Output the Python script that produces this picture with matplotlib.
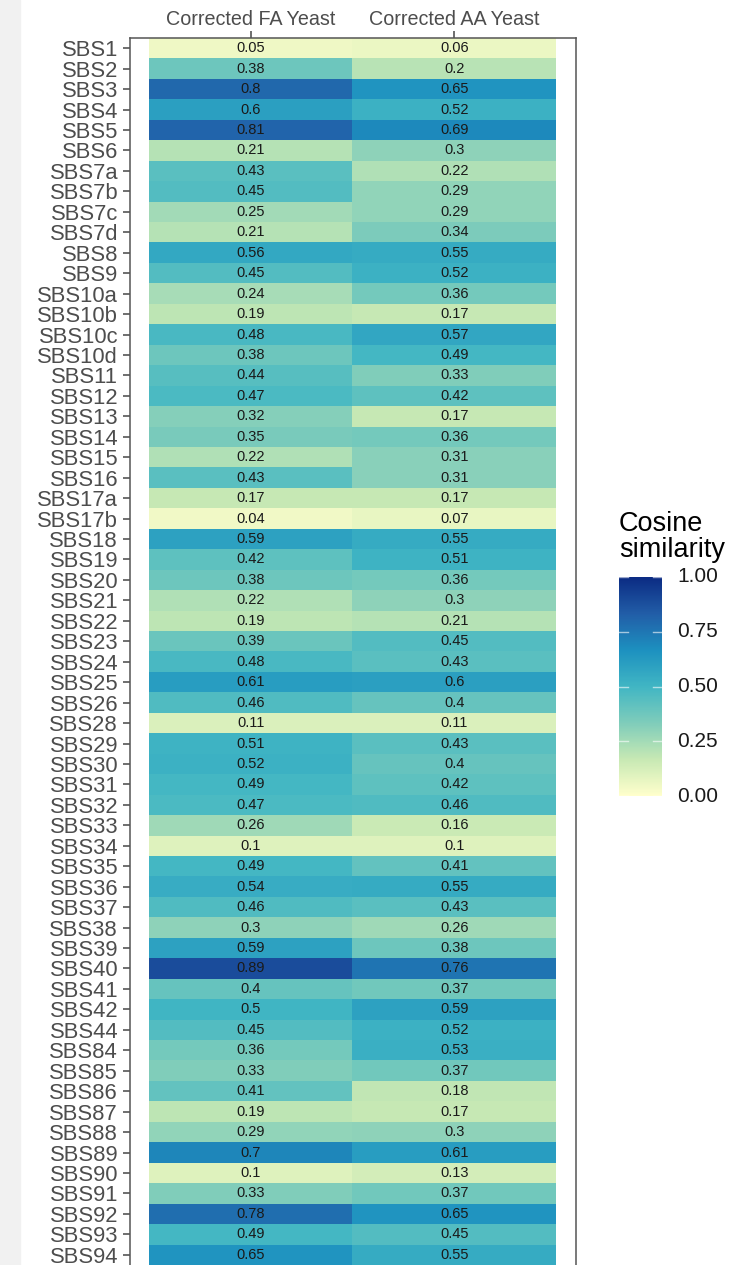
import numpy as np
import matplotlib
matplotlib.use("Agg")
import matplotlib.pyplot as plt
import matplotlib.patches as mpatches
from matplotlib.colors import LinearSegmentedColormap

plt.rcParams['font.family'] = ['Liberation Sans', 'DejaVu Sans']

signatures = ['SBS1', 'SBS2', 'SBS3', 'SBS4', 'SBS5', 'SBS6', 'SBS7a', 'SBS7b', 'SBS7c', 'SBS7d',
              'SBS8', 'SBS9', 'SBS10a', 'SBS10b', 'SBS10c', 'SBS10d', 'SBS11', 'SBS12', 'SBS13', 'SBS14',
              'SBS15', 'SBS16', 'SBS17a', 'SBS17b', 'SBS18', 'SBS19', 'SBS20', 'SBS21', 'SBS22', 'SBS23',
              'SBS24', 'SBS25', 'SBS26', 'SBS28', 'SBS29', 'SBS30', 'SBS31', 'SBS32', 'SBS33', 'SBS34',
              'SBS35', 'SBS36', 'SBS37', 'SBS38', 'SBS39', 'SBS40', 'SBS41', 'SBS42', 'SBS44', 'SBS84',
              'SBS85', 'SBS86', 'SBS87', 'SBS88', 'SBS89', 'SBS90', 'SBS91', 'SBS92', 'SBS93', 'SBS94']
samples = ['Corrected FA Yeast', 'Corrected AA Yeast']

fa_yeast = [0.05, 0.38, 0.8, 0.6, 0.81, 0.21, 0.43, 0.45, 0.25, 0.21,
            0.56, 0.45, 0.24, 0.19, 0.48, 0.38, 0.44, 0.47, 0.32, 0.35,
            0.22, 0.43, 0.17, 0.04, 0.59, 0.42, 0.38, 0.22, 0.19, 0.39,
            0.48, 0.61, 0.46, 0.11, 0.51, 0.52, 0.49, 0.47, 0.26, 0.1,
            0.49, 0.54, 0.46, 0.3, 0.59, 0.89, 0.4, 0.5, 0.45, 0.36,
            0.33, 0.41, 0.19, 0.29, 0.7, 0.1, 0.33, 0.78, 0.49, 0.65]
aa_yeast = [0.06, 0.2, 0.65, 0.52, 0.69, 0.3, 0.22, 0.29, 0.29, 0.34,
            0.55, 0.52, 0.36, 0.17, 0.57, 0.49, 0.33, 0.42, 0.17, 0.36,
            0.31, 0.31, 0.17, 0.07, 0.55, 0.51, 0.36, 0.3, 0.21, 0.45,
            0.43, 0.6, 0.4, 0.11, 0.43, 0.4, 0.42, 0.46, 0.16, 0.1,
            0.41, 0.55, 0.43, 0.26, 0.38, 0.76, 0.37, 0.59, 0.52, 0.53,
            0.37, 0.18, 0.17, 0.3, 0.61, 0.13, 0.37, 0.65, 0.45, 0.55]

cbar_ticks = [0.0, 0.25, 0.5, 0.75, 1.0]

# 7-class brewer YlGnBu, stretched like ggplot's distiller scale
ylgnbu7 = ['#ffffcc', '#c7e9b4', '#7fcdbb', '#41b6c4', '#1d91c0', '#225ea8', '#0c2c84']
cmap = LinearSegmentedColormap.from_list('ylgnbu7', ylgnbu7)

W, H = 751, 1265
axcol = '#555555'
txtcol = '#4d4d4d'

fig = plt.figure(figsize=(W / 100, H / 100), dpi=100)
fig.patches.append(mpatches.Rectangle((0, 0), 20 / W, 1, transform=fig.transFigure,
                                      color='#f1f1f1', zorder=0))

# heatmap panel
ax = fig.add_axes([130 / W, 0, 446 / W, (H - 38) / H])
data = np.array([fa_yeast, aa_yeast]).T
n = len(signatures)
ax.imshow(data, cmap=cmap, vmin=0, vmax=1, aspect='auto', interpolation='nearest',
          extent=(-0.5, 1.5, n - 0.5, -0.5))
for i in range(n):
    for j in range(2):
        ax.text(j, i, f"{data[i, j]:g}", ha='center', va='center', fontsize=10.5, color='#1a1a1a')

ax.set_xlim(-0.5 - 19 / 203.5, 1.5 + 20 / 203.5)
ax.set_ylim(n - 0.5, -0.5)
ax.set_yticks(range(n))
ax.set_yticklabels(signatures, fontsize=15.8, color=txtcol)
ax.set_xticks([0, 1])
ax.set_xticklabels(samples, fontsize=14.2, color=txtcol)
ax.xaxis.tick_top()
ax.tick_params(axis='y', length=5, width=1.2, color=axcol, pad=3.5)
ax.tick_params(axis='x', length=5, width=1.2, color=axcol, pad=1.5)
for side in ['left', 'top', 'right']:
    ax.spines[side].set_color(axcol)
    ax.spines[side].set_linewidth(1.1)
ax.spines['bottom'].set_visible(False)

# colorbar legend
cax = fig.add_axes([619 / W, (H - 796) / H, 43 / W, 219 / H])
grad = np.linspace(0, 1, 300).reshape(-1, 1)
cax.imshow(grad, cmap=cmap, vmin=0, vmax=1, aspect='auto', origin='lower',
           extent=(0, 1, 0, 1))
cax.set_xlim(0, 1)
cax.set_ylim(0, 1)
for t in cbar_ticks:
    cax.plot([0, 0.2], [t, t], color='white', lw=1, alpha=0.6)
    cax.plot([0.8, 1], [t, t], color='white', lw=1, alpha=0.6)
    cax.text(1 + 15 / 43, t, f"{t:.2f}", ha='left', va='center', fontsize=15, color='#1a1a1a')
cax.set_xticks([])
cax.set_yticks([])
for s in cax.spines.values():
    s.set_visible(False)

fig.text(619 / W, 1 - 511 / H, "Cosine\nsimilarity", ha='left', va='top', fontsize=19.5,
         color='black', linespacing=1.0)

fig.savefig('out.png', dpi=100)
